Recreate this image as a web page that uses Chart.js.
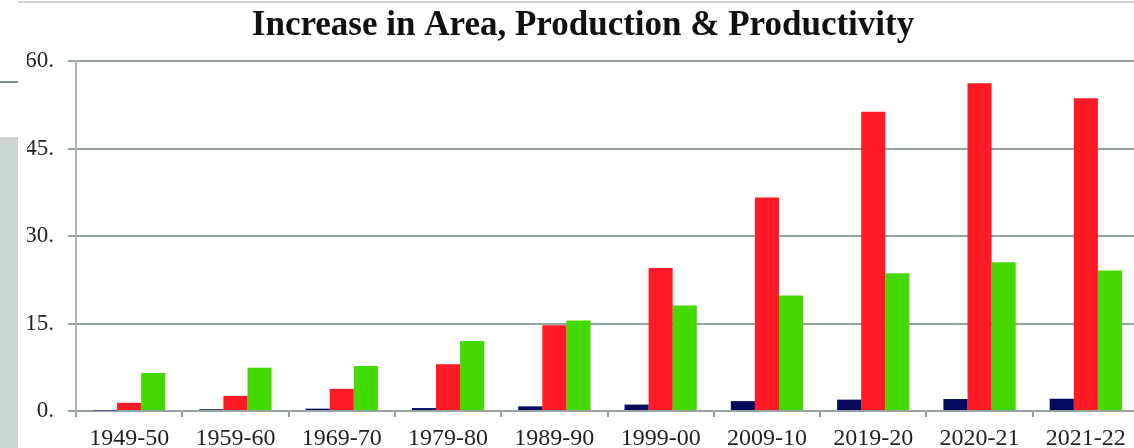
<!DOCTYPE html>
<html>
<head>
<meta charset="utf-8">
<script src="https://cdn.jsdelivr.net/npm/chart.js@4"></script>
<style>
  html,body{margin:0;padding:0;background:#fff;overflow:hidden;}
  #wrap{position:relative;width:1134px;height:448px;overflow:hidden;}
  canvas{position:absolute;left:0;top:0;}
  .deco{position:absolute;}
</style>
</head>
<body>
<div id="wrap">
  <canvas id="chart" width="1145" height="448" style="width:1145px;height:448px"></canvas>
  <!-- slide decoration around the chart -->
  <div class="deco" style="left:18px;top:1px;width:1116px;height:2px;background:#cdd5d3"></div>
  <div class="deco" style="left:0;top:81px;width:18px;height:2px;background:#7f8c84"></div>
  <div class="deco" style="left:0;top:137px;width:18px;height:311px;background:#c9d6d3"></div>
</div>
<script>
// data
const years = ['1949-50','1959-60','1969-70','1979-80','1989-90','1999-00','2009-10','2019-20','2020-21','2021-22'];
const area = [0.1, 0.3, 0.4, 0.5, 0.8, 1.1, 1.7, 1.95, 2.05, 2.1];
const production = [1.4, 2.6, 3.8, 8.0, 14.7, 24.5, 36.6, 51.3, 56.2, 53.6];
const productivity = [6.5, 7.4, 7.7, 12.0, 15.5, 18.1, 19.8, 23.6, 25.5, 24.1];
const yTicks = [0, 15, 30, 45, 60];

const gridCol = '#97a3a1';
const serif = "'Liberation Serif', 'DejaVu Serif', serif";

const ctx = document.getElementById('chart').getContext('2d');
new Chart(ctx, {
  type: 'bar',
  data: {
    labels: years,
    datasets: [
      { label: 'Area', data: area, backgroundColor: '#050a5c' },
      { label: 'Production', data: production, backgroundColor: '#ff1a25' },
      { label: 'Productivity', data: productivity, backgroundColor: '#44da00' }
    ]
  },
  options: {
    responsive: false,
    animation: false,
    datasets: { bar: { categoryPercentage: 0.68, barPercentage: 1.0 } },
    layout: { padding: { left: 27, right: 6, top: 0, bottom: 0 } },
    plugins: {
      legend: { display: false },
      tooltip: { enabled: false },
      title: {
        display: true,
        text: 'Increase in Area, Production & Productivity',
        color: '#111',
        font: { family: serif, size: 35, weight: 'bold', lineHeight: 1.2 },
        padding: { top: 5, bottom: 14 }
      }
    },
    scales: {
      x: {
        afterFit(s){ s.height = 37; },
        grid: { display: true, drawOnChartArea: false, tickLength: 6, color: gridCol, lineWidth: 2 },
        border: { display: true, color: gridCol, width: 2 },
        ticks: { color: '#222', padding: 7, maxRotation: 0, autoSkip: false, font: { family: serif, size: 24 } }
      },
      y: {
        min: 0, max: 60,
        afterFit(s){ s.width = 49; },
        afterBuildTicks(s){ s.ticks = yTicks.map(v => ({ value: v })); },
        grid: { color: gridCol, lineWidth: 2, tickLength: 8 },
        border: { display: true, color: '#a9b4b2', width: 2 },
        ticks: { color: '#222', padding: 14, callback: v => v + '.', font: { family: serif, size: 23 } }
      }
    }
  }
});
</script>
</body>
</html>
